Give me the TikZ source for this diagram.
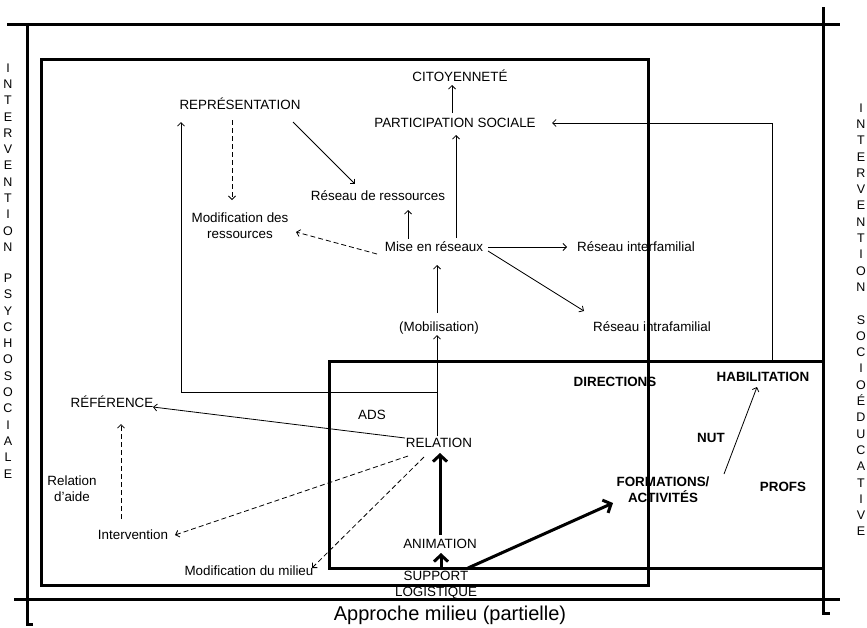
\documentclass[tikz,border=0pt]{standalone}
\usepackage{fontspec}
\setmainfont{Liberation Sans}
\usetikzlibrary{arrows.meta}
\begin{document}
\begin{tikzpicture}[x=1pt,y=-1pt,
  lbl/.style={font=\fontsize{13.4}{16}\selectfont, inner sep=2pt, text height=9.4pt, text depth=0pt},
  bl/.style={lbl, font=\fontsize{13.4}{16}\selectfont\bfseries},
  ml/.style={font=\fontsize{13.4}{16}\selectfont, align=center, inner sep=2pt},
  mlb/.style={ml, font=\fontsize{13.4}{16}\selectfont\bfseries},
  side/.style={font=\fontsize{12.5}{16.3}\selectfont, align=center, inner sep=0pt, anchor=north},
  thinarr/.style={line width=0.8pt, -{Straight Barb[length=3.5pt,width=7pt]}},
  dsh/.style={thinarr, dash pattern=on 5pt off 3pt},
  thk/.style={line width=3pt, -{Straight Barb[length=6.5pt,width=14pt]}},
  frame/.style={line width=3pt}]
\useasboundingbox (0,0) rectangle (867,627);

% side texts
\node[side] (lt) at (8,63.3) {I\\N\\T\\E\\R\\V\\E\\N\\T\\I\\O\\N\\[14.7pt]P\\S\\Y\\C\\H\\O\\S\\O\\C\\I\\A\\L\\E};
\node[side] (rt) at (861,103.3) {I\\N\\T\\E\\R\\V\\E\\N\\T\\I\\O\\N\\[16.3pt]S\\O\\C\\I\\O\\É\\D\\U\\C\\A\\T\\I\\V\\E};

% labels
\node[lbl] (cit) at (460,77) {CITOYENNETÉ};
\node[lbl] (part) at (455,123) {PARTICIPATION SOCIALE};
\node[lbl] (rep) at (240,105) {REPRÉSENTATION};
\node[lbl] (res) at (378,196) {Réseau de ressources};
\node[ml] (modr) at (240,226) {Modification des\\ressources};
\node[lbl] (mise) at (434,247) {Mise en réseaux};
\node[lbl] (inter) at (636,247) {Réseau interfamilial};
\node[lbl] (intra) at (652,327) {Réseau intrafamilial};
\node[lbl] (mob) at (439,327) {(Mobilisation)};
\node[lbl] (ads) at (372,415) {ADS};
\node[lbl] (rel) at (439,443) {RELATION};
\node[lbl] (ref) at (112,403) {RÉFÉRENCE};
\node[ml] (aide) at (72,489) {Relation\\d’aide};
\node[lbl] (interv) at (133,535) {Intervention};
\node[lbl] (modm) at (249,571) {Modification du milieu};
\node[lbl] (anim) at (440,544) {ANIMATION};
\node[ml] (sup) at (436,585) {SUPPORT\\LOGISTIQUE};
\node[mlb] (form) at (663,490) {FORMATIONS/\\ACTIVITÉS};
\node[bl] (hab) at (763,377) {HABILITATION};
\node[bl] (dir) at (615,382) {DIRECTIONS};
\node[bl] (nut) at (711,438) {NUT};
\node[bl] (profs) at (783,487) {PROFS};
\node[font=\fontsize{20}{24}\selectfont, inner sep=2pt, text height=14.3pt, text depth=0pt] (appr) at (450,613) {Approche milieu (partielle)};

% frames
\draw[frame] (7,24) -- (840,24);
\draw[frame] (27,24) -- (27,624) -- (33,624);
\draw[frame] (14,599) -- (840,599);
\draw[frame] (823,7) -- (823,613) -- (830,613);
\draw[frame] (41,59) rectangle (648,585);
\draw[frame] (329,361) rectangle (823,568);

% connectors
\draw[thinarr] ([shift={(-3,-10)}]part.center) -- ([shift={(-8,8)}]cit.center);
\draw[thinarr] ([shift={(22,-9)}]mise.center) -- ([shift={(1,12)}]part.center);
\draw[thinarr] ([shift={(53,17)}]rep.center) -- ([shift={(-23,-12)}]res.center);
\draw[dsh] ([shift={(-8,15)}]rep.center) -- ([shift={(-8,-26)}]modr.center);
\draw[thinarr] ([shift={(-26,-8)}]mise.center) -- ([shift={(30,14)}]res.center);
\draw[dsh] ([shift={(-57,7)}]mise.center) -- ([shift={(56,6)}]modr.center);
\draw[thinarr] ([shift={(-2,-14)}]mob.center) -- ([shift={(3,18)}]mise.center);
\draw[thinarr] ([shift={(54,0)}]mise.center) -- ([shift={(-69,0)}]inter.center);
\draw[thinarr] ([shift={(54,4)}]mise.center) -- ([shift={(-68,-16)}]intra.center);
\draw[thinarr] ([shift={(-2,-7)}]rel.center) -- ([shift={(-2,8)}]mob.center);
\coordinate (br) at ([shift={(-2,-51)}]rel.center);
\draw[thinarr] (br) -| ([shift={(-59,17)}]rep.center);
\coordinate (hp) at (772,361);
\draw[thinarr] (hp) |- ([shift={(97,0)}]part.center);
\draw[thinarr] ([shift={(-34,-5)}]rel.center) -- ([shift={(41,4)}]ref.center);
\draw[dsh] ([shift={(-12,-16)}]interv.center) -- ([shift={(9,21)}]ref.center);
\draw[dsh] ([shift={(-31,13)}]rel.center) -- ([shift={(42,0)}]interv.center);
\draw[dsh] ([shift={(-15,14)}]rel.center) -- ([shift={(63,-3)}]modm.center);
\draw[thk] ([shift={(0,-9)}]anim.center) -- ([shift={(1,10)}]rel.center);
\draw[thk] ([shift={(5,-16)}]sup.center) -- ([shift={(1,9)}]anim.center);
\draw[thk] ([shift={(32,-17)}]sup.center) -- ([shift={(-50,13)}]form.center);
\draw[thinarr] ([shift={(61,-16)}]form.center) -- ([shift={(-6,10)}]hab.center);
\end{tikzpicture}
\end{document}
